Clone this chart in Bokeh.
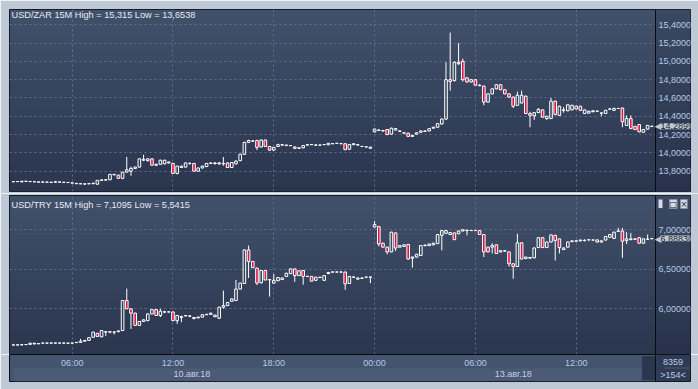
import pandas as pd
from bokeh.plotting import figure
from bokeh.layouts import column
from bokeh.models import (ColumnDataSource, FixedTicker, Grid, LinearAxis, Range1d,
                          Label, BoxAnnotation, Span)
from bokeh.core.properties import value
from bokeh.embed import file_html
from bokeh.resources import INLINE

# ---------------- data ----------------
fri_times = pd.date_range("2018-08-10 02:30", "2018-08-10 23:45", freq="15min")
mon_times = pd.date_range("2018-08-13 00:00", "2018-08-13 16:30", freq="15min")
times = list(fri_times) + list(mon_times)
day_labels = ["10.авг.18", "13.авг.18"]
bar_count = "8359"
bars_shown = ">154<"

zar_open = [
    13.685, 13.686, 13.683, 13.690, 13.688, 13.685, 13.683, 13.681, 13.681, 13.679,
    13.680, 13.683, 13.679, 13.677, 13.672, 13.667, 13.663, 13.661, 13.662, 13.664,
    13.658, 13.700, 13.703, 13.706, 13.765, 13.757, 13.722, 13.790, 13.800, 13.830,
    13.845, 13.920, 13.915, 13.935, 13.865, 13.875, 13.880, 13.900, 13.885, 13.775,
    13.840, 13.845, 13.885, 13.885, 13.800, 13.835, 13.850, 13.885, 13.890, 13.880,
    13.880, 13.890, 13.840, 13.880, 13.915, 13.985, 14.115, 14.130, 14.135, 14.065,
    14.140, 14.070, 14.030, 14.070, 14.085, 14.085, 14.080, 14.065, 14.050, 14.055,
    14.085, 14.090, 14.086, 14.085, 14.090, 14.088, 14.100, 14.105, 14.100, 14.100,
    14.040, 14.090, 14.085, 14.071, 14.066, 14.063,
    14.230, 14.245, 14.240, 14.255, 14.205, 14.250, 14.240, 14.220, 14.215, 14.180,
    14.205, 14.225, 14.235, 14.240, 14.270, 14.280, 14.315, 14.370, 14.800, 14.790,
    14.990, 15.000, 14.820, 14.775, 14.800, 14.740, 14.730, 14.555, 14.645, 14.700,
    14.745, 14.690, 14.645, 14.610, 14.520, 14.545, 14.620, 14.430, 14.405, 14.440,
    14.470, 14.375, 14.375, 14.565, 14.410, 14.465, 14.460, 14.470, 14.480, 14.510,
    14.430, 14.435, 14.450, 14.455, 14.436, 14.430, 14.478, 14.465, 14.486, 14.490,
    14.300, 14.375, 14.290, 14.310, 14.225, 14.260, 14.288]
zar_high = [
    13.687, 13.688, 13.692, 13.692, 13.689, 13.686, 13.684, 13.684, 13.682, 13.680,
    13.692, 13.684, 13.680, 13.678, 13.673, 13.668, 13.664, 13.662, 13.670, 13.680,
    13.703, 13.708, 13.712, 13.768, 13.770, 13.760, 13.793, 13.955, 13.850, 13.850,
    13.940, 13.980, 13.940, 13.942, 13.882, 13.925, 13.925, 13.905, 13.890, 13.860,
    13.860, 13.895, 13.895, 13.890, 13.840, 13.860, 13.890, 13.895, 13.900, 13.900,
    13.955, 13.895, 13.900, 13.920, 13.990, 14.120, 14.145, 14.140, 14.145, 14.150,
    14.145, 14.075, 14.065, 14.100, 14.095, 14.090, 14.083, 14.068, 14.060, 14.085,
    14.093, 14.094, 14.092, 14.089, 14.094, 14.108, 14.104, 14.108, 14.105, 14.105,
    14.095, 14.105, 14.095, 14.074, 14.069, 14.065,
    14.265, 14.258, 14.250, 14.260, 14.275, 14.272, 14.245, 14.224, 14.220, 14.200,
    14.225, 14.245, 14.245, 14.270, 14.285, 14.325, 14.375, 14.990, 15.315, 15.000,
    15.200, 15.030, 14.830, 14.805, 14.805, 14.750, 14.735, 14.650, 14.705, 14.750,
    14.750, 14.695, 14.650, 14.615, 14.670, 14.680, 14.625, 14.450, 14.445, 14.490,
    14.475, 14.405, 14.600, 14.570, 14.515, 14.500, 14.530, 14.525, 14.515, 14.515,
    14.475, 14.460, 14.465, 14.460, 14.440, 14.470, 14.490, 14.495, 14.490, 14.495,
    14.410, 14.410, 14.295, 14.315, 14.260, 14.305, 14.300]
zar_low = [
    13.683, 13.684, 13.682, 13.687, 13.684, 13.682, 13.679, 13.679, 13.678, 13.676,
    13.675, 13.678, 13.676, 13.674, 13.668, 13.661, 13.659, 13.6538, 13.658, 13.657,
    13.654, 13.697, 13.698, 13.704, 13.757, 13.718, 13.712, 13.785, 13.750, 13.826,
    13.840, 13.910, 13.905, 13.860, 13.855, 13.870, 13.875, 13.885, 13.770, 13.765,
    13.835, 13.840, 13.870, 13.795, 13.795, 13.830, 13.845, 13.880, 13.870, 13.870,
    13.860, 13.835, 13.835, 13.875, 13.910, 13.980, 14.110, 14.120, 14.030, 14.060,
    14.065, 14.020, 14.025, 14.065, 14.080, 14.078, 14.075, 14.040, 14.045, 14.050,
    14.082, 14.087, 14.078, 14.082, 14.087, 14.085, 14.097, 14.100, 14.097, 14.030,
    14.035, 14.085, 14.080, 14.066, 14.062, 14.045,
    14.225, 14.240, 14.232, 14.195, 14.200, 14.245, 14.230, 14.212, 14.175, 14.175,
    14.200, 14.222, 14.230, 14.236, 14.265, 14.276, 14.312, 14.360, 14.680, 14.780,
    14.960, 14.780, 14.770, 14.770, 14.735, 14.728, 14.520, 14.550, 14.640, 14.695,
    14.685, 14.640, 14.600, 14.490, 14.515, 14.540, 14.425, 14.280, 14.360, 14.435,
    14.385, 14.360, 14.370, 14.410, 14.405, 14.440, 14.455, 14.465, 14.475, 14.460,
    14.425, 14.430, 14.445, 14.450, 14.400, 14.425, 14.470, 14.460, 14.480, 14.280,
    14.295, 14.260, 14.250, 14.225, 14.222, 14.255, 14.285]
zar_close = [
    13.685, 13.687, 13.690, 13.689, 13.686, 13.684, 13.680, 13.682, 13.680, 13.678,
    13.684, 13.680, 13.678, 13.676, 13.670, 13.663, 13.662, 13.660, 13.664, 13.666,
    13.700, 13.705, 13.706, 13.765, 13.760, 13.722, 13.790, 13.815, 13.830, 13.845,
    13.935, 13.930, 13.935, 13.865, 13.875, 13.920, 13.920, 13.890, 13.775, 13.855,
    13.855, 13.890, 13.886, 13.800, 13.835, 13.855, 13.885, 13.890, 13.885, 13.890,
    13.885, 13.840, 13.895, 13.910, 13.985, 14.115, 14.135, 14.131, 14.060, 14.140,
    14.070, 14.030, 14.060, 14.090, 14.090, 14.080, 14.079, 14.050, 14.055, 14.080,
    14.090, 14.091, 14.085, 14.086, 14.091, 14.105, 14.101, 14.104, 14.101, 14.035,
    14.090, 14.100, 14.090, 14.070, 14.065, 14.050,
    14.260, 14.250, 14.245, 14.200, 14.270, 14.265, 14.235, 14.215, 14.180, 14.190,
    14.220, 14.240, 14.240, 14.265, 14.280, 14.320, 14.370, 14.800, 14.780, 14.990,
    14.975, 14.800, 14.775, 14.800, 14.740, 14.735, 14.555, 14.645, 14.700, 14.745,
    14.690, 14.645, 14.610, 14.510, 14.630, 14.630, 14.430, 14.410, 14.440, 14.475,
    14.390, 14.400, 14.565, 14.420, 14.510, 14.470, 14.525, 14.520, 14.510, 14.465,
    14.470, 14.455, 14.460, 14.456, 14.435, 14.465, 14.480, 14.485, 14.485, 14.340,
    14.375, 14.265, 14.255, 14.230, 14.255, 14.300, 14.2899]

try_open = [
    5.542, 5.542, 5.544, 5.547, 5.550, 5.565, 5.558, 5.565, 5.566, 5.566,
    5.567, 5.566, 5.566, 5.565, 5.566, 5.572, 5.575, 5.590, 5.600, 5.640,
    5.690, 5.645, 5.710, 5.705, 5.705, 5.710, 5.725, 6.105, 6.000, 5.945,
    5.790, 5.840, 5.850, 5.935, 5.990, 5.915, 5.960, 5.960, 5.960, 5.850,
    5.890, 5.910, 5.905, 5.890, 5.885, 5.895, 5.925, 5.930, 5.920, 5.880,
    6.020, 6.040, 6.095, 6.105, 6.250, 6.320, 6.745, 6.600, 6.515, 6.330,
    6.485, 6.370, 6.325, 6.355, 6.370, 6.410, 6.445, 6.505, 6.420, 6.485,
    6.410, 6.410, 6.360, 6.395, 6.360, 6.445, 6.465, 6.465, 6.465, 6.465,
    6.320, 6.400, 6.390, 6.385, 6.400, 6.400,
    7.035, 7.040, 6.830, 6.780, 6.720, 6.960, 6.780, 6.790, 6.815, 6.640,
    6.655, 6.675, 6.800, 6.800, 6.810, 6.825, 6.930, 6.955, 6.940, 6.960,
    6.950, 6.985, 6.990, 6.990, 6.990, 6.990, 6.940, 6.780, 6.780, 6.810,
    6.720, 6.730, 6.720, 6.570, 6.535, 6.835, 6.635, 6.650, 6.645, 6.775,
    6.900, 6.775, 6.845, 6.930, 6.885, 6.750, 6.780, 6.850, 6.855, 6.860,
    6.865, 6.872, 6.870, 6.872, 6.845, 6.870, 6.905, 6.890, 6.980, 6.985,
    6.865, 6.875, 6.880, 6.900, 6.830, 6.880, 6.887]
try_high = [
    5.544, 5.545, 5.550, 5.551, 5.568, 5.567, 5.560, 5.568, 5.568, 5.569,
    5.569, 5.568, 5.569, 5.570, 5.568, 5.578, 5.620, 5.603, 5.638, 5.708,
    5.695, 5.728, 5.715, 5.714, 5.712, 5.724, 6.108, 6.255, 6.005, 5.950,
    5.845, 5.865, 5.940, 6.000, 5.995, 6.000, 5.975, 5.965, 5.965, 5.920,
    5.915, 5.920, 5.918, 5.895, 5.900, 5.930, 5.935, 5.950, 5.925, 6.025,
    6.230, 6.085, 6.130, 6.365, 6.330, 6.750, 6.800, 6.605, 6.520, 6.490,
    6.490, 6.375, 6.440, 6.400, 6.395, 6.455, 6.510, 6.510, 6.485, 6.490,
    6.415, 6.415, 6.405, 6.405, 6.425, 6.465, 6.470, 6.470, 6.470, 6.470,
    6.415, 6.410, 6.395, 6.395, 6.405, 6.405,
    7.1095, 7.045, 6.835, 6.785, 6.975, 6.965, 6.805, 6.815, 6.820, 6.660,
    6.695, 6.805, 6.815, 6.825, 6.835, 6.945, 6.995, 6.995, 6.970, 6.965,
    6.990, 7.005, 7.000, 6.995, 6.995, 6.995, 6.945, 6.785, 6.830, 6.815,
    6.740, 6.740, 6.725, 6.575, 6.950, 6.840, 6.660, 6.655, 6.775, 6.905,
    6.905, 6.850, 6.940, 6.935, 6.890, 6.775, 6.850, 6.865, 6.865, 6.875,
    6.880, 6.878, 6.876, 6.876, 6.865, 6.920, 6.945, 6.975, 7.025, 7.025,
    6.970, 6.960, 6.890, 6.905, 6.890, 6.940, 6.895]
try_low = [
    5.5415, 5.5415, 5.542, 5.545, 5.548, 5.553, 5.556, 5.563, 5.564, 5.564,
    5.564, 5.564, 5.564, 5.556, 5.564, 5.570, 5.572, 5.588, 5.598, 5.638,
    5.645, 5.640, 5.655, 5.690, 5.675, 5.707, 5.722, 5.995, 5.745, 5.785,
    5.785, 5.836, 5.845, 5.930, 5.910, 5.895, 5.945, 5.955, 5.845, 5.810,
    5.830, 5.905, 5.895, 5.870, 5.880, 5.890, 5.920, 5.925, 5.895, 5.875,
    6.000, 6.035, 6.090, 6.100, 6.245, 6.315, 6.390, 6.515, 6.300, 6.320,
    6.360, 6.155, 6.320, 6.350, 6.365, 6.405, 6.440, 6.340, 6.415, 6.305,
    6.405, 6.345, 6.355, 6.390, 6.355, 6.440, 6.460, 6.460, 6.460, 6.240,
    6.315, 6.390, 6.370, 6.380, 6.395, 6.325,
    7.030, 6.790, 6.775, 6.690, 6.715, 6.730, 6.775, 6.785, 6.620, 6.520,
    6.650, 6.670, 6.790, 6.795, 6.805, 6.820, 6.740, 6.950, 6.935, 6.870,
    6.945, 6.980, 6.930, 6.985, 6.985, 6.935, 6.655, 6.715, 6.700, 6.695,
    6.715, 6.725, 6.535, 6.380, 6.530, 6.625, 6.630, 6.635, 6.640, 6.770,
    6.770, 6.770, 6.840, 6.610, 6.700, 6.745, 6.775, 6.845, 6.850, 6.855,
    6.850, 6.866, 6.865, 6.840, 6.840, 6.865, 6.900, 6.885, 6.975, 6.645,
    6.820, 6.870, 6.875, 6.825, 6.825, 6.875, 6.880]
try_close = [
    5.542, 5.543, 5.545, 5.548, 5.565, 5.555, 5.558, 5.566, 5.566, 5.567,
    5.566, 5.566, 5.567, 5.564, 5.566, 5.575, 5.590, 5.600, 5.635, 5.705,
    5.650, 5.725, 5.705, 5.710, 5.706, 5.720, 6.105, 6.000, 5.945, 5.790,
    5.840, 5.860, 5.935, 5.990, 5.915, 5.970, 5.961, 5.961, 5.850, 5.915,
    5.900, 5.915, 5.910, 5.875, 5.895, 5.925, 5.930, 5.945, 5.900, 6.020,
    6.040, 6.080, 6.125, 6.250, 6.325, 6.745, 6.600, 6.520, 6.325, 6.485,
    6.365, 6.365, 6.360, 6.395, 6.390, 6.450, 6.505, 6.420, 6.480, 6.410,
    6.411, 6.350, 6.400, 6.400, 6.420, 6.460, 6.466, 6.466, 6.465, 6.315,
    6.410, 6.401, 6.375, 6.390, 6.401, 6.402,
    7.065, 6.820, 6.780, 6.720, 6.970, 6.770, 6.800, 6.810, 6.630, 6.655,
    6.690, 6.800, 6.805, 6.820, 6.830, 6.940, 6.990, 6.990, 6.965, 6.875,
    6.985, 7.000, 6.995, 6.991, 6.991, 6.940, 6.720, 6.720, 6.800, 6.700,
    6.735, 6.735, 6.570, 6.535, 6.835, 6.630, 6.655, 6.640, 6.770, 6.900,
    6.775, 6.845, 6.935, 6.865, 6.775, 6.770, 6.845, 6.860, 6.860, 6.870,
    6.866, 6.873, 6.871, 6.845, 6.860, 6.915, 6.940, 6.970, 6.985, 6.855,
    6.885, 6.885, 6.885, 6.830, 6.885, 6.881, 6.8883]

zar_ticks = [13.8, 14.0, 14.2, 14.4, 14.6, 14.8, 15.0, 15.2, 15.4]
try_ticks = [6.0, 6.5, 7.0]

# ---------------- style ----------------
FONT = "Liberation Sans"
FS = "9.2px"
AFS = "9px"
LIGHT = "#bec9d6"
GRID = "#66779a"
DOWN = "#dc1446"
TITLE_C = "#e6ebf3"
AXLAB_C = "#b6cbe6"
EDGE = "#080b10"

idx = list(range(len(times)))
tick_idx = [i for i, t in enumerate(times) if t.minute == 0 and t.hour % 6 == 0]
tick_text = [times[i].strftime("%H:%M") for i in tick_idx]
day_keys = sorted(set(t.date() for t in times))
day_centers = [sum(i for i, t in enumerate(times) if t.date() == d) /
               sum(1 for t in times if t.date() == d) for d in day_keys]

PLOT_END = 152.88          # right edge of the candle area (price column starts here)
x_range = Range1d(-0.92, 161.21)
FRAME_W = 681


def fmt(v, nd=5):
    return f"{v:.{nd}f}".replace(".", ",")


def gfmt(v):
    return f"{v:g}".replace(".", ",")


def gradient(p, y0, y1, c_top, c_bot, left=None, level="image", n=40):
    for k in range(n):
        f = (k + 0.5) / n
        col = "#%02x%02x%02x" % tuple(int(round(a + (b - a) * f)) for a, b in zip(c_top, c_bot))
        t = y1 - (y1 - y0) * k / n
        b = y1 - (y1 - y0) * (k + 1) / n - (y1 - y0) * 0.004
        p.add_layout(BoxAnnotation(bottom=b, top=t, left=left, fill_color=col, fill_alpha=1.0,
                                   line_color=None, level=level))


def panel(yr, frame_h, top_b, bot_b, ticks, o, h, l, c, name, title_dy):
    p = figure(frame_width=FRAME_W, frame_height=frame_h, x_range=x_range,
               y_range=Range1d(*yr), toolbar_location=None, output_backend="svg",
               x_axis_location=None, y_axis_location=None,
               min_border_left=9, min_border_right=8, min_border_top=top_b,
               min_border_bottom=bot_b, background_fill_color="#36435d",
               border_fill_color=LIGHT, outline_line_color=EDGE, outline_line_width=1)
    p.grid.visible = False
    gradient(p, yr[0], yr[1], (66, 81, 107), (42, 53, 78))
    p.add_layout(Grid(dimension=0, ticker=FixedTicker(ticks=tick_idx),
                      grid_line_color=GRID, grid_line_dash="2 3", grid_line_alpha=0.85))
    p.add_layout(Grid(dimension=1, ticker=FixedTicker(ticks=ticks),
                      grid_line_color=GRID, grid_line_dash="2 3", grid_line_alpha=0.85))
    # price column background (covers the grid lines there)
    gradient(p, yr[0], yr[1], (58, 72, 97), (40, 51, 75), left=PLOT_END, level="underlay")

    top = [max(a, b) for a, b in zip(o, c)]
    bot = [min(a, b) for a, b in zip(o, c)]
    src = ColumnDataSource(dict(
        x=idx, high=h, low=l, top=top, bot=bot,
        fill=[DOWN if cc < oo else "#000000" for oo, cc in zip(o, c)],
        falpha=[1.0 if cc < oo else 0.0 for oo, cc in zip(o, c)]))
    p.segment(x0="x", y0="high", x1="x", y1="top", source=src, line_color="white", line_width=1)
    p.segment(x0="x", y0="bot", x1="x", y1="low", source=src, line_color="white", line_width=1)
    p.vbar(x="x", width=0.62, top="top", bottom="bot", source=src, fill_color="fill",
           fill_alpha="falpha", line_color="white", line_width=1)

    # price scale, drawn at the edge of the candle area
    ax = LinearAxis(fixed_location=PLOT_END, ticker=FixedTicker(ticks=ticks),
                    major_label_overrides={v: fmt(v) for v in ticks},
                    axis_line_color=EDGE, axis_line_width=1,
                    major_tick_line_color=None, minor_tick_line_color=None,
                    major_tick_out=0, major_tick_in=0, minor_tick_out=0, minor_tick_in=0,
                    major_label_standoff=3, major_label_text_font=FONT,
                    major_label_text_font_size=AFS, major_label_text_color=AXLAB_C)
    p.add_layout(ax, "right")

    # title
    title = f"{name} 15M High = {gfmt(max(h))} Low = {gfmt(min(l))}"
    p.add_layout(Label(x=x_range.start, y=yr[1], x_offset=2, y_offset=title_dy, text=title,
                       text_font=FONT, text_font_size=FS, text_color=TITLE_C,
                       text_baseline="top", text_align="left"))
    # last price tag
    p.add_layout(Label(x=PLOT_END, y=c[-1], x_offset=-1, text="◀", text_font="DejaVu Sans",
                       text_font_size="9px", text_color="#c3cad3",
                       text_baseline="middle", text_align="left"))
    p.add_layout(Label(x=PLOT_END, y=c[-1], x_offset=5, text=fmt(c[-1]), text_font=FONT,
                       text_font_size=AFS, text_color="#1c2737",
                       background_fill_color="#c3cad3", background_fill_alpha=1.0,
                       text_baseline="middle", text_align="left"))
    return p


top_fig = panel((13.578, 15.567), 182, 9, 2, zar_ticks,
                zar_open, zar_high, zar_low, zar_close, "USD/ZAR", 0)
bot_fig = panel((5.4215, 7.434), 159, 2, 0, try_ticks,
                try_open, try_high, try_low, try_close, "USD/TRY", -4)

# window buttons of the lower pane
for k, sym in enumerate(["_", "□", "×"]):
    bot_fig.add_layout(Label(x=PLOT_END, y=7.434, x_offset=3 + 11 * k, y_offset=-4,
                             text=sym, text_font="DejaVu Sans", text_font_size="8px",
                             text_color="#1a2230", background_fill_color="#d5dbe3",
                             border_line_color="#8590a2", text_baseline="top",
                             text_align="left"))

# ---------------- time scale strip (y in pixels from its bottom edge) ----------------
time_fig = figure(frame_width=FRAME_W, frame_height=27, x_range=x_range,
                  y_range=Range1d(0, 27), toolbar_location=None, output_backend="svg",
                  x_axis_location=None, y_axis_location=None,
                  min_border_left=9, min_border_right=8, min_border_top=0,
                  min_border_bottom=8, background_fill_color="#45546e",
                  border_fill_color=LIGHT, outline_line_color=EDGE, outline_line_width=1)
time_fig.grid.visible = False
time_fig.add_layout(BoxAnnotation(bottom=0, top=13, left=0, right=PLOT_END,
                                  fill_color="#4b5a75", fill_alpha=1.0, line_color=None,
                                  level="image"))
time_fig.add_layout(BoxAnnotation(left=PLOT_END, fill_color="#2f3b55", fill_alpha=1.0,
                                  line_color=None, level="image"))
time_fig.add_layout(BoxAnnotation(left=149.6, right=PLOT_END, bottom=1, top=25.5,
                                  fill_color="#2a3550", fill_alpha=1.0,
                                  line_color="#5b6985", line_width=1, level="image"))
time_fig.add_layout(Span(location=PLOT_END, dimension="height", line_color=EDGE, line_width=1))

time_fig.text(x=tick_idx, y=[18.3] * len(tick_idx), text=tick_text,
              text_font=value(FONT), text_font_size=AFS, text_color=AXLAB_C,
              text_align="center", text_baseline="middle")
time_fig.text(x=day_centers, y=[7.5] * len(day_centers), text=day_labels,
              text_font=value(FONT), text_font_size=AFS, text_color="#c3d0e2",
              text_align="center", text_baseline="middle")

col_mid = (PLOT_END + x_range.end) / 2
time_fig.add_layout(Label(x=col_mid, y=19.3, text=bar_count, text_font=FONT,
                          text_font_size=AFS, text_color=AXLAB_C,
                          text_baseline="middle", text_align="center"))
time_fig.add_layout(BoxAnnotation(left=154.9, right=x_range.end, bottom=13.2, top=13.8,
                                  fill_color="#6a7891", fill_alpha=1.0, line_color=None,
                                  level="image"))
time_fig.add_layout(Label(x=col_mid, y=7, text=bars_shown, text_font=FONT,
                          text_font_size=AFS, text_color=AXLAB_C,
                          text_baseline="middle", text_align="center"))

layout = column(top_fig, bot_fig, time_fig, spacing=0)
open("out.html", "w").write(file_html(layout, INLINE))
